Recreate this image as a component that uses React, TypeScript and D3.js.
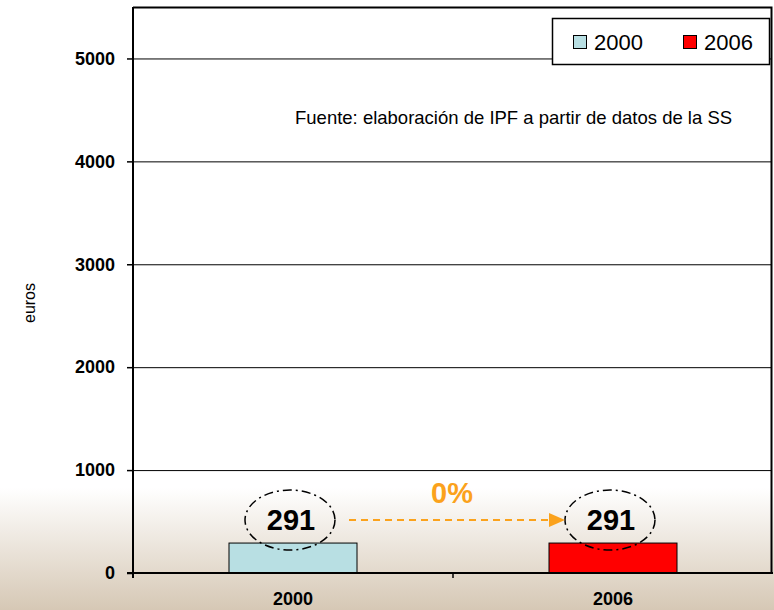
import React from 'react'
import * as d3 from 'd3'

const categories = ['2000', '2006']
const values = [291, 291]
const barColors = ['#b8dfe3', '#ff0000']
const yTicks = [0, 1000, 2000, 3000, 4000, 5000]
const changeLabel = '0%'
const sourceNote = 'Fuente: elaboración de IPF a partir de datos de la SS'
const yLabel = 'euros'

const W = 774
const H = 610

export default function App() {
  const ref = React.useRef<SVGSVGElement>(null)

  React.useEffect(() => {
    const svg = d3.select(ref.current)
    svg.selectAll('*').remove()
    const font = "'Liberation Sans', Arial, sans-serif"

    // background gradient
    const defs = svg.append('defs')
    const grad = defs.append('linearGradient')
      .attr('id', 'bg').attr('x1', 0).attr('y1', 0).attr('x2', 0).attr('y2', 1)
    grad.append('stop').attr('offset', '0%').attr('stop-color', '#ffffff')
    grad.append('stop').attr('offset', '80%').attr('stop-color', '#ffffff')
    grad.append('stop').attr('offset', '100%').attr('stop-color', '#d6c8b5')
    svg.append('rect').attr('width', W).attr('height', H).attr('fill', 'url(#bg)')

    const left = 133, right = 773, top = 7, bottom = 573
    const x = d3.scaleBand().domain(categories).range([left, right])
      .paddingInner(0.6).paddingOuter(0.3)
    const y = d3.scaleLinear().domain([0, 5500]).range([bottom, top])

    // gridlines
    svg.append('g').selectAll('line')
      .data(yTicks.filter(d => d > 0))
      .enter().append('line')
      .attr('x1', left).attr('x2', right - 1)
      .attr('y1', d => y(d) + 0.5).attr('y2', d => y(d) + 0.5)
      .attr('stroke', '#000').attr('stroke-width', 1)

    // frame top + right
    svg.append('path')
      .attr('d', `M${left},${top + 0.5}H${right - 1.5}V${bottom}`)
      .attr('fill', 'none').attr('stroke', '#000').attr('stroke-width', 2)

    // bars
    svg.append('g').selectAll('rect')
      .data(values)
      .enter().append('rect')
      .attr('x', (d, i) => x(categories[i])!)
      .attr('width', x.bandwidth())
      .attr('y', d => y(d))
      .attr('height', d => y(0) - y(d))
      .attr('fill', (d, i) => barColors[i])
      .attr('stroke', '#000').attr('stroke-width', 1)

    // y axis
    const yAxis = svg.append('g')
      .attr('transform', `translate(${left},0)`)
      .call(d3.axisLeft(y).tickValues(yTicks).tickFormat(d3.format('d'))
        .tickSize(6).tickSizeOuter(0).tickPadding(12))
    yAxis.select('.domain').remove()
    yAxis.append('line').attr('x1', 0).attr('x2', 0).attr('y1', top).attr('y2', bottom + 5)
      .attr('stroke', '#000').attr('stroke-width', 2)
    yAxis.selectAll('.tick line').attr('stroke', '#000').attr('stroke-width', 1.5)
    yAxis.selectAll('.tick text')
      .attr('font-family', font).attr('font-size', 18).attr('font-weight', 'bold').attr('fill', '#000')

    // x axis
    const xAxis = svg.append('g').attr('transform', `translate(0,${bottom})`)
    xAxis.append('line').attr('x1', left - 6).attr('x2', right).attr('y1', 0).attr('y2', 0)
      .attr('stroke', '#000').attr('stroke-width', 2)
    xAxis.selectAll('line.sep')
      .data(categories.slice(1))
      .enter().append('line')
      .attr('x1', d => x(d)! - x.step() * x.paddingInner() / 2)
      .attr('x2', d => x(d)! - x.step() * x.paddingInner() / 2)
      .attr('y1', 0).attr('y2', 5).attr('stroke', '#000').attr('stroke-width', 1.5)
    xAxis.selectAll('text')
      .data(categories)
      .enter().append('text')
      .attr('x', d => x(d)! + x.bandwidth() / 2)
      .attr('y', 32)
      .attr('text-anchor', 'middle')
      .attr('font-family', font).attr('font-size', 18).attr('font-weight', 'bold')
      .text(d => d)

    // value labels with dash-dot ellipses
    const cx = (i: number) => x(categories[i])! + x.bandwidth() / 2 - 3
    const cy = (i: number) => y(values[i]) - 23
    svg.append('g').selectAll('ellipse')
      .data(values)
      .enter().append('ellipse')
      .attr('cx', (d, i) => cx(i)).attr('cy', (d, i) => cy(i))
      .attr('rx', 45).attr('ry', 30)
      .attr('fill', 'none').attr('stroke', '#000').attr('stroke-width', 1.5)
      .attr('stroke-dasharray', '9,4,2,4')
    svg.append('g').selectAll('text')
      .data(values)
      .enter().append('text')
      .attr('x', (d, i) => cx(i) + 1).attr('y', (d, i) => cy(i) + 10)
      .attr('text-anchor', 'middle')
      .attr('font-family', font).attr('font-size', 29).attr('font-weight', 'bold')
      .text(d => String(d))

    // change arrow
    const ax1 = cx(0) + 45 + 14
    const ax2 = cx(1) - 45 - 16
    const ay = cy(0)
    const orange = '#fba21c'
    svg.append('line').attr('x1', ax1).attr('x2', ax2).attr('y1', ay).attr('y2', ay)
      .attr('stroke', orange).attr('stroke-width', 2).attr('stroke-dasharray', '7,5')
    svg.append('path')
      .attr('d', `M${ax2},${ay - 7}L${ax2 + 16},${ay}L${ax2},${ay + 7}Z`)
      .attr('fill', orange)
    svg.append('text')
      .attr('x', (cx(0) + cx(1)) / 2 + 2).attr('y', ay - 17)
      .attr('text-anchor', 'middle')
      .attr('font-family', font).attr('font-size', 29).attr('font-weight', 'bold')
      .attr('fill', orange)
      .text(changeLabel)

    // y label
    svg.append('text')
      .attr('transform', `translate(35,303) rotate(-90)`)
      .attr('text-anchor', 'middle')
      .attr('font-family', font).attr('font-size', 16)
      .text(yLabel)

    // source note
    svg.append('text')
      .attr('x', 295).attr('y', 124)
      .attr('font-family', font).attr('font-size', 18.5)
      .text(sourceNote)

    // legend
    const lg = svg.append('g')
    lg.append('rect').attr('x', 552.5).attr('y', 18.5).attr('width', 217).attr('height', 46)
      .attr('fill', '#fff').attr('stroke', '#000').attr('stroke-width', 1.5)
    const lx = [573, 683]
    categories.forEach((c, i) => {
      lg.append('rect').attr('x', lx[i] + 0.5).attr('y', 35.5).attr('width', 13).attr('height', 13)
        .attr('fill', barColors[i]).attr('stroke', '#000').attr('stroke-width', 1)
      lg.append('text').attr('x', lx[i] + 21).attr('y', 50)
        .attr('font-family', font).attr('font-size', 22)
        .text(c)
    })
  }, [])

  return <svg ref={ref} width={W} height={H} style={{ position: 'absolute', left: 0, top: 0 }} />
}
